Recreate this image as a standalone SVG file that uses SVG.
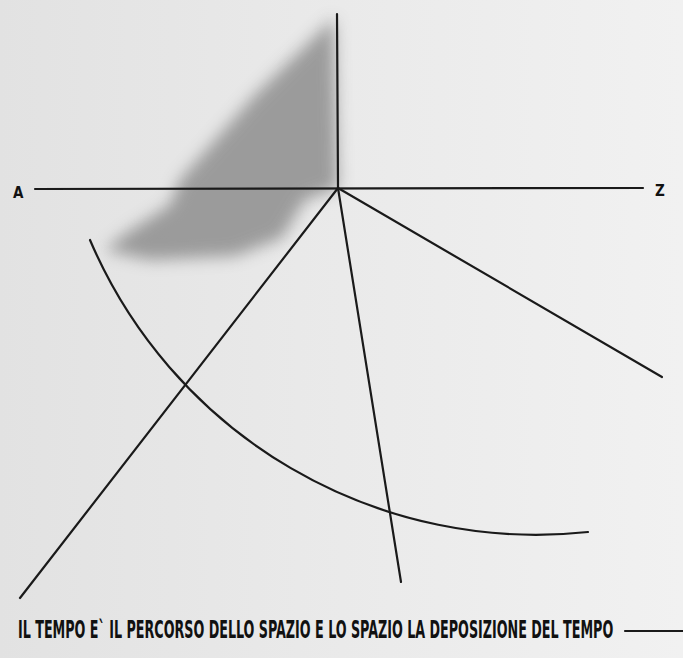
<svg xmlns="http://www.w3.org/2000/svg" width="683" height="658" viewBox="0 0 683 658">
<style>
.ln{stroke:#1a1a1a;stroke-width:2.2;fill:none;stroke-linecap:round}
.lbl{font-family:"DejaVu Sans Condensed","DejaVu Sans",sans-serif;font-weight:bold;fill:#111}
</style>
<defs>
<linearGradient id="bg" x1="0" y1="0" x2="1" y2="0">
<stop offset="0" stop-color="#e2e2e2"/>
<stop offset="0.5" stop-color="#eaeaea"/>
<stop offset="1" stop-color="#f1f1f1"/>
</linearGradient>
<filter id="blur" x="-20%" y="-20%" width="140%" height="140%">
<feGaussianBlur stdDeviation="8"/>
</filter>
</defs>
<rect width="683" height="658" fill="url(#bg)"/>
<g id="shadow">
<path d="M334,18 L338,188 L305,200 L282,238 L235,256 L150,260 L105,250 L128,232 L170,205 L180,180 L255,95 Z" fill="#8e8e8e" filter="url(#blur)" opacity="0.85"/>
</g>
<g id="connectors">
<line class="ln" x1="337" y1="14" x2="338" y2="188"/>
<line class="ln" x1="35" y1="189" x2="643" y2="188"/>
<line class="ln" x1="338" y1="188" x2="20" y2="598"/>
<line class="ln" x1="338" y1="188" x2="401" y2="582"/>
<line class="ln" x1="338" y1="188" x2="662" y2="377"/>
<path class="ln" d="M90,240 A485,485 0 0 0 588,532"/>
</g>
<g id="label-A"><text class="lbl" x="13" y="198" font-size="15">A</text></g>
<g id="label-Z"><text class="lbl" x="655" y="196" font-size="15">Z</text></g>
<g id="caption">
<g transform="translate(18,638) scale(0.6,1)">
<text class="lbl" x="0" y="0" font-size="24" textLength="992" lengthAdjust="spacingAndGlyphs">IL TEMPO E` IL PERCORSO DELLO SPAZIO E LO SPAZIO LA DEPOSIZIONE DEL TEMPO</text>
</g>
<line class="ln" x1="625" y1="631" x2="683" y2="631"/>
</g>
</svg>
